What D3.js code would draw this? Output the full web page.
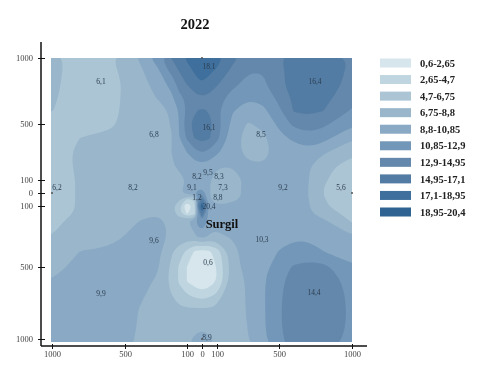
<!DOCTYPE html>
<html lang="en">
<head>
    <meta charset="UTF-8">
    <title>2022</title>
    <style>
     body { margin: 0; background: #fff; }
     svg { filter: blur(0.3px); }
     text { font-family: "Liberation Serif", serif; }
     .tick text { font-size: 8.5px; fill: #444; }
     .tick line, .axisLine { stroke: #111; }
     .station { font-size: 7.5px; fill: #2b3d50; text-anchor: middle; }
    </style>
</head>
<body>
    <div id="chart"></div>
    <script src="https://d3js.org/d3.v7.min.js"></script>
    <script>
    var title = "2022";
    var siteName = "Surgil";

    // legend classes, value ranges read from the key
    var classLabels = ["0,6-2,65","2,65-4,7","4,7-6,75","6,75-8,8","8,8-10,85","10,85-12,9","12,9-14,95","14,95-17,1","17,1-18,95","18,95-20,4"];
    var thresholds = [0.6,2.65,4.7,6.75,8.8,10.85,12.9,14.95,17.1,18.95];
    var classColors = ["#d6e6ec","#bfd6e0","#abc5d4","#99b6cb","#8aa9c4","#7397b8","#6488ab","#527ca3","#3f6f9c","#2f6391"];

    // axis ticks in metres from the site (the axes are not to scale)
    var tickX = [-1000,-500,-100,0,100,500,1000];
    var tickY = [1000,500,100,0,-100,-500,-1000];

    // measured values printed on the map
    var stationText = ["6,1","18.1","16,4","6,8","16,1","8,5","9,5","8,2","8,3","6,2","8,2","9,1","7,3","9,2","5,6","1,2","8,8","20,4","9,6","10,3","0,6","9,9","14,4","8,9"];
    var stationX = [-664,47,747,-313,47,384,40,-33,113,-966,-448,-67,139,527,925,-33,106,47,-313,390,40,-664,740,33];
    var stationY = [826,939,826,429,479,429,157,129,129,46,46,46,46,46,46,-31,-31,-100,-323,-316,-467,-681,-674,-986];

    // surface on a grid of metres
    var gridX = [-1000,-800,-600,-500,-400,-300,-200,-150,-100,-50,-25,0,25,50,100,200,300,400,500,600,700,800,1000];
    var gridY = [1000,900,800,700,600,500,400,300,200,100,50,0,-25,-50,-100,-150,-200,-300,-400,-500,-600,-800,-1020];
    var surface = [
      [7.2,6.0,6.5,7.7,9.1,11.8,15.0,16.2,17.4,18.2,18.4,18.5,18.4,18.3,18.0,15.5,14.0,14.2,14.8,15.8,16.4,16.3,14.7],
      [7.2,5.95,6.2,7.3,8.5,10.0,13.5,15.0,16.4,17.3,17.8,18.0,17.8,17.4,16.8,14.4,13.0,12.95,14.5,15.6,16.2,16.3,14.5],
      [7.1,5.9,6.0,7.0,8.0,9.5,11.5,13.7,15.0,16.2,16.6,16.8,16.6,16.3,15.1,13.4,12.3,12.6,14.4,15.9,16.3,16.2,14.2],
      [7.0,5.8,6.0,7.1,7.9,8.8,10.4,12.5,13.2,14.2,14.5,14.6,14.5,14.3,13.9,12.0,11.0,11.4,13.5,15.3,15.9,15.7,13.5],
      [6.8,5.8,6.0,7.2,7.7,8.1,9.0,11.0,13.2,14.6,15.0,15.0,15.0,14.7,13.3,11.0,9.9,10.4,12.5,15.1,15.4,15.0,12.7],
      [6.2,5.9,6.4,7.3,7.7,8.1,8.9,11.0,14.4,15.6,16.0,16.2,16.0,15.6,13.9,10.2,8.6,9.3,11.3,13.4,14.0,13.4,11.2],
      [6.0,6.8,7.2,7.5,7.8,8.1,8.7,10.8,13.2,15.0,15.4,15.6,15.4,15.1,13.5,9.5,8.1,8.4,10.2,11.3,12.1,11.6,9.1],
      [6.0,7.1,7.4,7.6,7.8,8.0,8.8,9.7,10.9,12.3,12.6,12.9,12.7,12.4,11.2,9.5,8.3,8.4,9.3,9.8,10.2,9.2,7.2],
      [5.9,7.1,7.5,7.7,7.9,8.0,8.7,9.0,9.6,9.9,10.0,10.1,10.0,9.8,9.0,8.8,9.1,8.9,9.4,9.5,9.0,7.2,6.1],
      [5.8,7.0,7.5,7.7,8.0,8.1,8.4,8.5,8.9,9.2,9.6,9.9,9.5,9.1,7.4,8.3,9.1,9.3,9.3,9.3,8.9,7.0,5.6],
      [5.8,7.0,7.5,7.7,8.0,8.2,8.5,8.6,9.0,9.5,10.2,10.0,9.6,9.0,7.2,8.3,9.2,9.3,9.3,9.2,8.8,6.8,5.5],
      [5.8,7.0,7.5,7.8,8.1,8.2,8.5,8.5,9.3,10.5,11.5,12.0,10.5,9.0,7.2,8.3,9.2,9.3,9.3,9.2,8.8,6.8,5.5],
      [5.8,7.0,7.5,7.8,8.1,8.2,8.4,8.2,7.2,8.0,12.5,13.5,11.0,9.0,7.4,8.4,9.2,9.3,9.4,9.2,8.8,6.8,5.5],
      [5.8,7.0,7.5,7.8,8.1,8.2,8.2,7.2,4.5,5.0,12.5,16.0,12.0,9.1,8.0,8.6,9.2,9.4,9.4,9.2,8.9,6.9,5.6],
      [5.8,7.0,7.5,7.8,8.1,8.2,7.5,5.0,0.6,3.5,15.0,20.4,16.0,10.5,8.9,9.1,9.3,9.5,9.5,9.3,9.0,7.0,5.7],
      [5.9,7.1,7.6,7.9,8.3,8.7,8.0,5.5,2.5,4.0,11.0,17.0,12.0,10.0,9.2,9.2,9.4,9.6,9.6,9.4,9.2,7.9,6.0],
      [6.4,7.3,7.7,8.0,8.9,9.2,8.5,8.2,8.7,9.8,12.0,12.5,11.5,9.6,9.3,9.3,9.6,9.8,9.8,9.7,9.5,9.3,6.6],
      [6.75,7.5,7.9,8.9,9.5,9.6,8.5,8.2,8.0,8.5,9.0,9.4,9.0,8.6,8.5,9.0,9.9,10.2,10.5,10.7,10.6,10.1,8.9],
      [7.6,8.9,9.3,9.7,9.9,9.6,7.0,5.6,4.2,2.4,2.0,1.8,2.0,2.3,3.6,8.0,9.9,10.3,10.9,11.2,11.4,10.9,9.8],
      [8.3,9.3,9.6,9.9,10.0,9.4,6.3,4.4,2.6,1.5,1.0,0.6,1.0,1.5,2.7,8.0,9.6,10.4,11.6,13.2,13.7,13.5,11.2],
      [8.9,9.5,9.8,10.0,9.7,8.5,6.2,4.4,2.6,1.6,1.1,0.9,1.1,1.6,2.7,7.8,9.0,10.7,12.4,13.9,14.3,14.3,12.2],
      [9.4,9.9,10.0,9.7,8.6,7.9,7.3,7.2,7.2,7.2,7.2,7.2,7.2,7.3,7.4,7.9,9.0,10.6,12.7,14.2,14.5,14.5,12.6],
      [9.7,9.9,9.9,9.2,8.6,8.1,8.0,8.3,8.6,9.2,9.5,9.6,9.5,9.1,8.6,8.3,8.7,10.6,12.5,14.0,14.4,14.4,12.3]
    ];

    var svg = d3.select("#chart").append("svg")
                .attr("width",477)
                .attr("height",378);

    // piecewise scales, the ticks are unevenly spaced on the paper
    var xScale = d3.scaleLinear().domain(tickX).range([52,125,187,202,217,279,352]);
    var yScale = d3.scaleLinear().domain(tickY).range([58,124,180,193,206,267,339]);

    // d3.contours works in grid cells, so map cell coords -> metres -> pixels
    // not clamped: rings run past the plot edge and the clip cuts them
    var colIndex = d3.scaleLinear().domain(d3.range(gridX.length)).range(gridX);
    var rowIndex = d3.scaleLinear().domain(d3.range(gridY.length)).range(gridY);

    var ringLine = d3.line()
                     .x(function(p){return xScale(colIndex(p[0]-0.5));})
                     .y(function(p){return yScale(rowIndex(p[1]-0.5));})
                     .curve(d3.curveBasisClosed);

    function bandPath(band){
      return band.coordinates.map(function(polygon){
        return polygon.map(function(ring){return ringLine(ring.slice(0,-1));}).join("");
      }).join("");
    }

    var contours = d3.contours()
                     .size([gridX.length,gridY.length])
                     .thresholds(thresholds.slice(1))(surface.flat());

    svg.append("clipPath").attr("id","plotClip")
       .append("rect").attr("x",51).attr("y",58).attr("width",301).attr("height",284);

    var plot = svg.append("g").attr("clip-path","url(#plotClip)")
                  .append("g").style("filter","blur(0.4px)");
    plot.append("rect")
        .attr("x",45).attr("y",50).attr("width",315).attr("height",300)
        .attr("fill",classColors[0]);
    plot.selectAll("path").data(contours).enter().append("path")
        .attr("d",bandPath)
        .attr("fill-rule","evenodd")
        .attr("fill",function(d,i){return classColors[i+1];});

    //axes, ticks cross the axis line
    var xAxis = d3.axisBottom(xScale).tickValues(tickX).tickFormat(function(d){return Math.abs(d);}).tickSizeOuter(0);
    var yAxis = d3.axisLeft(yScale).tickValues(tickY).tickFormat(function(d){return Math.abs(d);}).tickSizeOuter(0);

    var xAxisGroup = svg.append("g").attr("transform","translate(0,346)").call(xAxis);
    var yAxisGroup = svg.append("g").attr("transform","translate(41,0)").call(yAxis);
    xAxisGroup.select(".domain").remove();
    yAxisGroup.select(".domain").remove();
    xAxisGroup.selectAll(".tick line").attr("y1",-2).attr("y2",3).attr("stroke-width",1);
    xAxisGroup.selectAll(".tick text").attr("y",5);
    yAxisGroup.selectAll(".tick line").attr("x1",-3).attr("x2",4).attr("stroke-width",1);
    yAxisGroup.selectAll(".tick text").attr("x",-8);

    svg.append("line").attr("class","axisLine").attr("stroke-width",1.5)
       .attr("x1",41).attr("x2",41).attr("y1",42).attr("y2",346);
    svg.append("line").attr("class","axisLine").attr("stroke-width",1.5)
       .attr("x1",41).attr("x2",367).attr("y1",346).attr("y2",346);

    // small marks on the plot edge, one per site axis end
    var edgeMarks = [[-1000,0],[1000,0],[0,1000],[0,-1000]];
    svg.selectAll(".edgeMark").data(edgeMarks).enter().append("circle")
       .attr("class","edgeMark")
       .attr("cx",function(d){return xScale(d[0]);})
       .attr("cy",function(d){return yScale(d[1]);})
       .attr("r",1)
       .attr("fill","#555");

    svg.selectAll(".station").data(stationText).enter().append("text")
       .attr("class","station")
       .attr("x",function(d,i){return xScale(stationX[i]);})
       .attr("y",function(d,i){return yScale(stationY[i]);})
       .attr("dy","0.35em")
       .text(function(d){return d;});

    svg.append("text")
       .attr("x",xScale(132)).attr("y",yScale(-218)).attr("dy","0.35em")
       .attr("text-anchor","middle")
       .attr("font-size",12.5).attr("font-weight","bold").attr("fill","#111")
       .text(siteName);

    svg.append("text")
       .attr("x",195).attr("y",29)
       .attr("text-anchor","middle")
       .attr("font-size",14.5).attr("font-weight","bold").attr("fill","#111")
       .text(title);

    // legend
    var legendY = d3.scaleLinear().domain([0,classLabels.length-1]).range([63,212]);
    var legend = svg.selectAll(".legendRow").data(classLabels).enter().append("g")
                    .attr("class","legendRow")
                    .attr("transform",function(d,i){return "translate(380,"+legendY(i)+")";});
    legend.append("rect")
          .attr("y",-4.5).attr("width",31).attr("height",9)
          .attr("fill",function(d,i){return classColors[i];});
    legend.append("text")
          .attr("x",40).attr("dy","0.35em")
          .attr("font-size",10.5).attr("font-weight","bold").attr("fill","#222")
          .text(function(d){return d;});
    </script>
</body>
</html>
